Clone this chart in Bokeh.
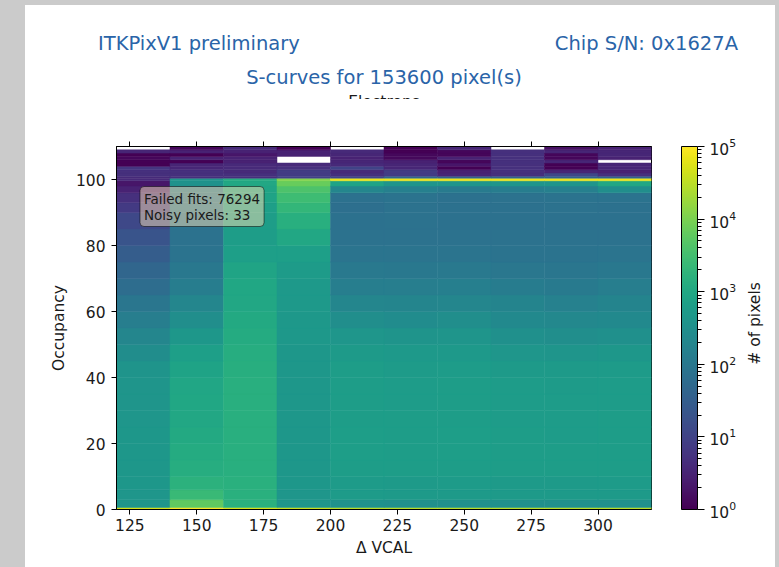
import math
from bokeh.plotting import figure
from bokeh.models import (Range1d, FixedTicker, LinearAxis, ColorBar, LogColorMapper,
                          LogTickFormatter, Label, ColumnDataSource, Div)
from bokeh.core.properties import value
from bokeh.palettes import Viridis256
from bokeh.layouts import column, row
from bokeh.embed import file_html
from bokeh.resources import INLINE

# ---------------- data ----------------
vcal_edges = [120, 140, 160, 180, 200, 220, 240, 260, 280, 300, 320]
occ_edges = [0, 0.6, 3, 6, 10, 15, 20, 25, 30, 35, 40, 45, 50, 55, 60, 65, 70, 75, 80, 85,
             90, 93, 96, 98, 99.6, 100.4, 101, 102, 103, 104, 105, 106, 107, 108, 109, 110]

counts_120 = [50000, 400, 420, 440, 450, 450, 440, 430, 410, 400, 380, 280, 200, 140, 90, 60, 45, 30,
              20, 12, 7, 5, 3, 2, 4, 4, 5, 5, 6, 1, 1, 1.2, 1, 3.5, 0]
counts_140 = [100000, 6000, 2500, 1600, 1300, 1200, 1100, 1000, 950, 900, 800, 650, 450, 300, 200, 130,
              100, 80, 75, 80, 90, 90, 120, 350, 400, 5, 5, 5, 3.5, 3.5, 1, 3, 1, 3, 1.2]
counts_160 = [50000, 1500, 1500, 1500, 1450, 1400, 1400, 1400, 1400, 1400, 1350, 1300, 1200, 1100, 1000,
              950, 850, 650, 620, 620, 650, 800, 850, 1000, 1200, 5, 5, 4, 4, 4, 3, 3, 2, 3, 4]
counts_180 = [40000, 420, 430, 440, 450, 450, 450, 450, 450, 450, 450, 450, 460, 470, 480, 500, 560, 650,
              1000, 1400, 2000, 2800, 4000, 7000, 12000, 10, 8, 8, 5, 4, 0, 0, 3, 3, 1]
counts_200 = [30000, 350, 550, 560, 620, 630, 630, 620, 610, 600, 600, 520, 420, 300, 200, 140, 105, 85,
              78, 72, 68, 72, 200, 800, 70000, 12, 5, 4, 10, 4, 3.5, 3, 3.5, 4, 0]
counts_220 = [30000, 330, 520, 540, 600, 610, 610, 600, 590, 580, 560, 480, 380, 270, 190, 135, 100, 85,
              78, 75, 75, 80, 150, 400, 70000, 50, 8, 8, 3.5, 3.5, 3, 1.3, 1.3, 1, 1]
counts_240 = [30000, 330, 540, 560, 620, 630, 630, 620, 610, 600, 590, 500, 400, 290, 200, 145, 105, 85,
              78, 72, 72, 72, 120, 400, 70000, 40, 3.5, 3, 1, 2, 1.2, 3, 1.2, 1.2, 3.5]
counts_260 = [30000, 330, 520, 540, 600, 610, 600, 590, 580, 570, 540, 430, 330, 240, 180, 125, 95, 80,
              75, 72, 72, 75, 130, 400, 70000, 40, 5, 5, 5, 5, 5, 5, 5, 5, 0]
counts_280 = [30000, 330, 520, 540, 600, 600, 590, 580, 570, 560, 520, 400, 300, 220, 160, 115, 90, 80,
              75, 72, 75, 80, 150, 400, 70000, 40, 12, 3.5, 1, 1, 3.5, 1.2, 1.2, 3.5, 1.7]
counts_300 = [30000, 330, 530, 550, 610, 620, 610, 600, 590, 580, 560, 450, 330, 240, 180, 135, 100, 85,
              78, 72, 72, 80, 300, 1000, 70000, 40, 5, 3, 3.5, 3.5, 0, 3, 3.5, 3.5, 3]

columns = [counts_120, counts_140, counts_160, counts_180, counts_200,
           counts_220, counts_240, counts_260, counts_280, counts_300]

x_ticks = [125, 150, 175, 200, 225, 250, 275, 300]
y_ticks = [0, 20, 40, 60, 80, 100]
cbar_ticks = [1, 10, 100, 1000, 10000, 100000]
cbar_minor = [m * d for d in [1, 10, 100, 1000, 10000] for m in range(2, 10)]
cbar_low, cbar_high = 1, 1e5

title_left = "ITKPixV1 preliminary"
title_right = "Chip S/N: 0x1627A"
title_center = "S-curves for 153600 pixel(s)"
top_axis_label = "Electrons"
cbar_label = "# of pixels"
failed_fits = 76294
noisy_pixels = 33

# ---------------- layout ----------------
FONT = "DejaVu Sans"
TEXT = "#1a1a1a"
BLUE = "#2a64a8"
PANEL_X, PANEL_Y = 25, 5          # white panel origin on the page
HEADER_H = 94                     # header strip height (page y 5..99)
FR_L, FR_R, FR_T, FR_B = 116, 651, 146, 509  # plot frame in page pixels
FIG_W = 750
SIDE_X = 742                      # page x where the colour-bar label strip starts
SIDE_W = PANEL_X + FIG_W - SIDE_X
MAIN_W = SIDE_X - PANEL_X
MAIN_H = 567 - PANEL_Y - HEADER_H
top0 = PANEL_Y + HEADER_H

# ---- header (titles) as HTML ----
span = ("position:absolute;white-space:nowrap;line-height:1;font-family:'DejaVu Sans';"
        "font-size:19.5px;color:%s;" % BLUE)
header_html = (
    f'<div style="position:relative;width:{FIG_W}px;height:{HEADER_H}px;overflow:hidden;'
    f'background:white;margin:0;padding:0;">'
    f'<span style="{span}left:{98 - PANEL_X}px;top:{50 - PANEL_Y - 16.5}px;">{title_left}</span>'
    f'<span style="{span}right:{FIG_W - (738 - PANEL_X)}px;top:{50 - PANEL_Y - 16.5}px;">{title_right}</span>'
    f'<span style="{span}left:{384 - PANEL_X}px;top:{84 - PANEL_Y - 16.5}px;transform:translateX(-50%);">'
    f'{title_center}</span>'
    f'<span style="position:absolute;white-space:nowrap;line-height:1;font-family:\'DejaVu Sans\';'
    f'font-size:15.5px;color:{TEXT};left:{384 - PANEL_X}px;top:{108.5 - PANEL_Y - 13.1}px;'
    f'transform:translateX(-50%);">{top_axis_label}</span>'
    f'</div>'
)
hdr = Div(text=header_html, width=FIG_W, height=HEADER_H, margin=0,
          styles={"background-color": "white", "overflow": "hidden"})


def dx(px):
    return 120 + (px - FR_L) * (320 - 120) / (FR_R - FR_L)


def dy(py):
    return (FR_B - py) * 110 / (FR_B - FR_T)


# ---- main heatmap ----
left, right, bottom, top, cnt = [], [], [], [], []
for i, col in enumerate(columns):
    for j, c in enumerate(col):
        if c > 0:
            left.append(vcal_edges[i]); right.append(vcal_edges[i + 1])
            bottom.append(occ_edges[j]); top.append(occ_edges[j + 1]); cnt.append(c)
src = ColumnDataSource(dict(left=left, right=right, bottom=bottom, top=top, count=cnt))

p = figure(width=MAIN_W, height=MAIN_H, x_range=Range1d(120, 320), y_range=Range1d(0, 110),
           output_backend="svg", toolbar_location=None,
           min_border_left=FR_L - PANEL_X, min_border_right=MAIN_W - (FR_R - PANEL_X),
           min_border_top=FR_T - top0, min_border_bottom=MAIN_H - (FR_B - top0))
p.margin = 0
p.background_fill_color = "white"
p.border_fill_color = "white"
p.grid.visible = False
p.outline_line_color = "black"
p.outline_line_width = 1

mapper = LogColorMapper(palette=Viridis256, low=cbar_low, high=cbar_high)
p.quad(left="left", right="right", bottom="bottom", top="top", source=src,
       fill_color={"field": "count", "transform": mapper},
       line_color={"field": "count", "transform": mapper}, line_width=0.5)

for ax in (p.xaxis[0], p.yaxis[0]):
    ax.axis_line_color = "black"
    ax.major_tick_line_color = "black"
    ax.major_tick_in = 0
    ax.major_tick_out = 5
    ax.minor_tick_line_color = None
    ax.major_label_text_font = FONT
    ax.major_label_text_font_size = "15.5px"
    ax.major_label_text_color = TEXT
    ax.axis_label_text_font = FONT
    ax.axis_label_text_font_size = "15.5px"
    ax.axis_label_text_font_style = "normal"
    ax.axis_label_text_color = TEXT
p.xaxis[0].ticker = FixedTicker(ticks=x_ticks)
p.yaxis[0].ticker = FixedTicker(ticks=y_ticks)
p.xaxis[0].axis_label = "Δ VCAL"
p.yaxis[0].axis_label = "Occupancy"
p.xaxis[0].major_label_standoff = 4
p.yaxis[0].major_label_standoff = 6
p.xaxis[0].axis_label_standoff = 5
p.yaxis[0].axis_label_standoff = 5

top_axis = LinearAxis(ticker=FixedTicker(ticks=x_ticks), major_label_text_color=None,
                      major_tick_in=0, major_tick_out=5, minor_tick_line_color=None,
                      axis_line_color="black", major_tick_line_color="black")
p.add_layout(top_axis, "above")

cb = ColorBar(color_mapper=mapper, ticker=FixedTicker(ticks=cbar_ticks, minor_ticks=cbar_minor),
              formatter=LogTickFormatter(), width=16, height=FR_B - FR_T,
              location=(30, 0), padding=0, margin=0, bar_line_color="black", bar_line_width=1,
              major_tick_line_color="black", major_tick_in=0, major_tick_out=7,
              minor_tick_line_color="black", minor_tick_in=0, minor_tick_out=4,
              major_label_text_font=FONT, major_label_text_font_size="15.5px",
              major_label_text_color=TEXT, label_standoff=5,
              background_fill_alpha=0, border_line_color=None)
p.add_layout(cb, "right")

# info box
p.add_layout(Label(x=dx(139.5), y=dy(186), text=f"Failed fits: {failed_fits}\nNoisy pixels: {noisy_pixels}",
                   text_font=FONT, text_font_size="13.5px", text_color=TEXT, text_align="left",
                   text_baseline="top", text_line_height=1.0,
                   background_fill_color="wheat", background_fill_alpha=0.5,
                   border_line_color="black", border_line_alpha=0.5, padding=4, border_radius=4))

# ---- colour-bar label strip ----
side = figure(width=SIDE_W, height=MAIN_H, x_range=Range1d(0, SIDE_W), y_range=Range1d(0, 110),
              output_backend="svg", toolbar_location=None, min_border_left=0, min_border_right=0,
              min_border_top=FR_T - top0, min_border_bottom=MAIN_H - (FR_B - top0))
side.margin = 0
side.axis.visible = False
side.grid.visible = False
side.outline_line_color = None
side.background_fill_color = "white"
side.border_fill_color = "white"
side.text(x=[754 - SIDE_X], y=[dy(323)], text=[cbar_label], angle=math.pi / 2,
          text_font=value(FONT), text_font_size="15.5px", text_color=TEXT,
          text_align="center", text_baseline="middle")

panel = column(hdr, row(p, side, spacing=0, margin=0), margin=(PANEL_Y, 4, 0, PANEL_X), spacing=0,
               styles={"background-color": "white"})
root = column(panel, styles={"background-color": "#cbcbcb"})
open("out.html", "w").write(file_html(root, INLINE))
